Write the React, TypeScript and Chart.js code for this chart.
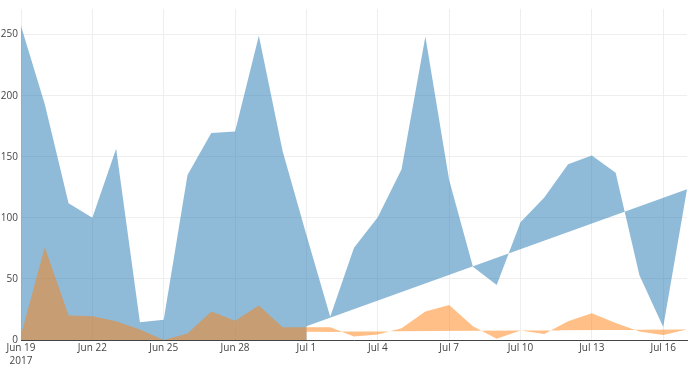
import React, { useEffect, useRef } from 'react';
import { Chart, registerables } from 'chart.js';

Chart.register(...registerables);

// Day index: 0 = Jun 19 2017 ... 28 = Jul 17 2017
const days = [0, 1, 2, 3, 4, 5, 6, 7, 8, 9, 10, 11, 12, 13, 14, 15, 16, 17, 18, 19, 20, 21, 22, 23, 24, 25, 26, 27, 28];

const blueValues = [257, 193, 112, 100, 156.5, 14.5, 16.5, 135, 169.5, 170.8, 249, 154.6, 86, 19, 75.6, 100.5, 139.8, 248.5, 131, 60, 45, 96.4, 116.7, 143.8, 151, 137, 53, 10.7, 123.5];
const orangeValues = [4, 76, 20, 19.4, 15.3, 8.5, 0, 5.3, 23.4, 15.8, 28.3, 10.5, 10.5, 10.5, 2.8, 4.5, 9.6, 23.4, 28.6, 11.2, 1, 7.7, 5, 15.3, 22, 14, 7, 4, 8.5];

// Fill base lines (area closes to zero up to Jul 1, then to a straight line)
const baseDays = [0, 12, 12, 28];
const blueBase = [0, 0, 11.2, 123.5];
const orangeBase = [0, 0, 6.7, 8.5];

const xTickDays = [0, 3, 6, 9, 12, 15, 18, 21, 24, 27];
const xTickLabels: (string | string[])[] = [['Jun 19', '2017'], 'Jun 22', 'Jun 25', 'Jun 28', 'Jul 1', 'Jul 4', 'Jul 7', 'Jul 10', 'Jul 13', 'Jul 16'];
const yTicks = [0, 50, 100, 150, 200, 250];

const BLUE_FILL = 'rgba(31,119,180,0.5)';
const ORANGE_FILL = 'rgba(255,127,14,0.5)';
const NONE = 'rgba(0,0,0,0)';
const FONT = { family: '"Open Sans", verdana, arial, sans-serif', size: 10 };

function pts(xs: number[], ys: number[]) {
  return xs.map((x, i) => ({ x, y: ys[i] }));
}

export default function App() {
  const ref = useRef<HTMLCanvasElement>(null);

  useEffect(() => {
    document.body.style.margin = '0';
    const canvas = ref.current;
    if (!canvas) return;
    const common = { borderColor: NONE, borderWidth: 0, pointRadius: 0, pointHoverRadius: 0, tension: 0 };
    const chart = new Chart(canvas, {
      type: 'line',
      data: {
        datasets: [
          { ...common, data: pts(days, orangeValues), backgroundColor: ORANGE_FILL, fill: 1, order: 0 },
          { ...common, data: pts(baseDays, orangeBase), backgroundColor: NONE, fill: false, order: 0 },
          { ...common, data: pts(days, blueValues), backgroundColor: BLUE_FILL, fill: 3, order: 1 },
          { ...common, data: pts(baseDays, blueBase), backgroundColor: NONE, fill: false, order: 1 },
        ],
      } as any,
      options: {
        responsive: false,
        animation: false,
        events: [],
        layout: { padding: { top: 7, right: 3, left: 0, bottom: 0 } },
        plugins: { legend: { display: false }, tooltip: { enabled: false } },
        scales: {
          x: {
            type: 'linear',
            min: 0,
            max: 28,
            afterBuildTicks: (s: any) => {
              s.ticks = xTickDays.map((v) => ({ value: v }));
            },
            afterFit: (s: any) => {
              s.height = 30;
            },
            ticks: {
              autoSkip: false,
              maxRotation: 0,
              padding: 2,
              color: '#444',
              font: { ...FONT, lineHeight: 1.25 },
              callback: (v: any) => {
                const i = xTickDays.indexOf(Number(v));
                return i >= 0 ? xTickLabels[i] : '';
              },
            },
            grid: { color: '#eee', lineWidth: 1, drawTicks: false },
            border: { display: true, color: '#444', width: 1 },
          },
          y: {
            type: 'linear',
            min: 0,
            max: 271,
            afterBuildTicks: (s: any) => {
              s.ticks = yTicks.map((v) => ({ value: v }));
            },
            afterFit: (s: any) => {
              s.width = 21;
            },
            ticks: { padding: 3, color: '#444', font: FONT },
            grid: { color: '#eee', lineWidth: 1, drawTicks: false },
            border: { display: false },
          },
        },
      } as any,
    });
    return () => chart.destroy();
  }, []);

  return (
    <div style={{ width: 690, height: 370 }}>
      <canvas ref={ref} width={690} height={370} style={{ display: 'block', width: 690, height: 370 }} />
    </div>
  );
}
